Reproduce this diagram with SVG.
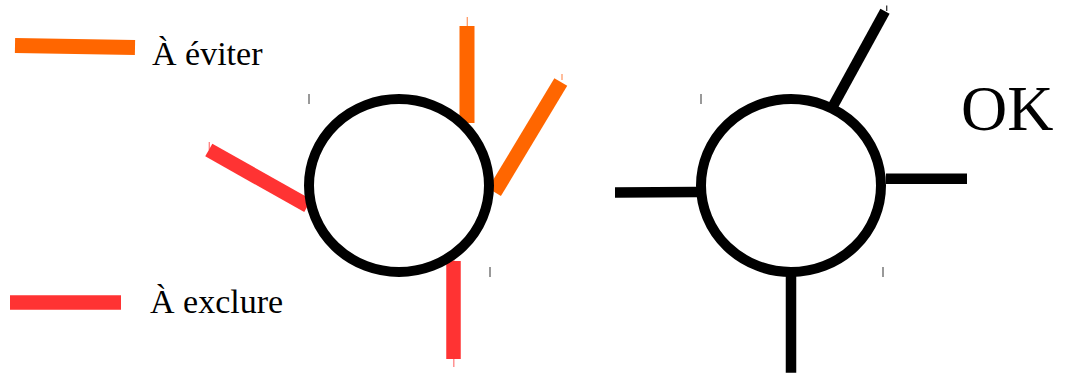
<svg xmlns="http://www.w3.org/2000/svg" width="1066" height="375" viewBox="0 0 1066 375">
<style>
.ring{fill:none;stroke:#000;stroke-width:10}
.blk{stroke:#000;stroke-width:10.5;stroke-linecap:butt}
.org{stroke:#FF6600;stroke-width:15;stroke-linecap:butt}
.red{stroke:#FF3333;stroke-width:14.5;stroke-linecap:butt}
.torg{stroke:#FF9A66;stroke-width:1.3}
.tred{stroke:#FF8080;stroke-width:1.3}
.tblk{stroke:#333;stroke-width:1.3}
.tick{stroke:#777;stroke-width:1.5}
.lbl{font-family:"Liberation Serif","Times New Roman",serif;fill:#000}
</style>
<rect width="1066" height="375" fill="#fff"/>
<g id="legend">
<line class="org" x1="15" y1="45.5" x2="135" y2="47.5"/>
<text class="lbl" x="152" y="65" font-size="34">À éviter</text>
<line class="red" x1="10" y1="302.5" x2="121" y2="302.5"/>
<text class="lbl" x="150" y="313" font-size="34">À exclure</text>
</g>
<g id="connectors">
<line class="torg" x1="467.3" y1="17" x2="467.3" y2="131"/>
<line class="org" x1="467" y1="26" x2="467" y2="123"/>
<line class="torg" x1="562" y1="74" x2="562" y2="80"/>
<line class="org" x1="560.8" y1="82" x2="494.5" y2="192.2"/>
<line class="tred" x1="209.3" y1="142" x2="209.3" y2="150"/>
<line class="red" x1="208.8" y1="150" x2="307.8" y2="205.8"/>
<line class="tred" x1="453.8" y1="254" x2="453.8" y2="367"/>
<line class="red" x1="453.5" y1="261" x2="453.5" y2="359"/>
<line class="blk" x1="615" y1="192.5" x2="697" y2="192"/>
<line class="blk" x1="886" y1="178.7" x2="967" y2="178.7"/>
<line class="blk" x1="791" y1="276" x2="791" y2="372.7"/>
<line class="tblk" x1="886.7" y1="5.5" x2="886.7" y2="11"/>
<line class="blk" x1="885" y1="11.2" x2="833" y2="106"/>
</g>
<g id="circle-left">
<ellipse class="ring" cx="399" cy="185.5" rx="90" ry="86.5"/>
<line class="tick" x1="309" y1="94" x2="309" y2="104"/>
<line class="tick" x1="490" y1="267" x2="490" y2="277"/>
</g>
<g id="circle-right">
<ellipse class="ring" cx="791" cy="185.5" rx="90" ry="86.5"/>
<line class="tick" x1="701" y1="94" x2="701" y2="104"/>
<line class="tick" x1="883" y1="267" x2="883" y2="277"/>
</g>
<g id="ok-label">
<text class="lbl" x="961" y="130" font-size="64">OK</text>
</g>
</svg>
